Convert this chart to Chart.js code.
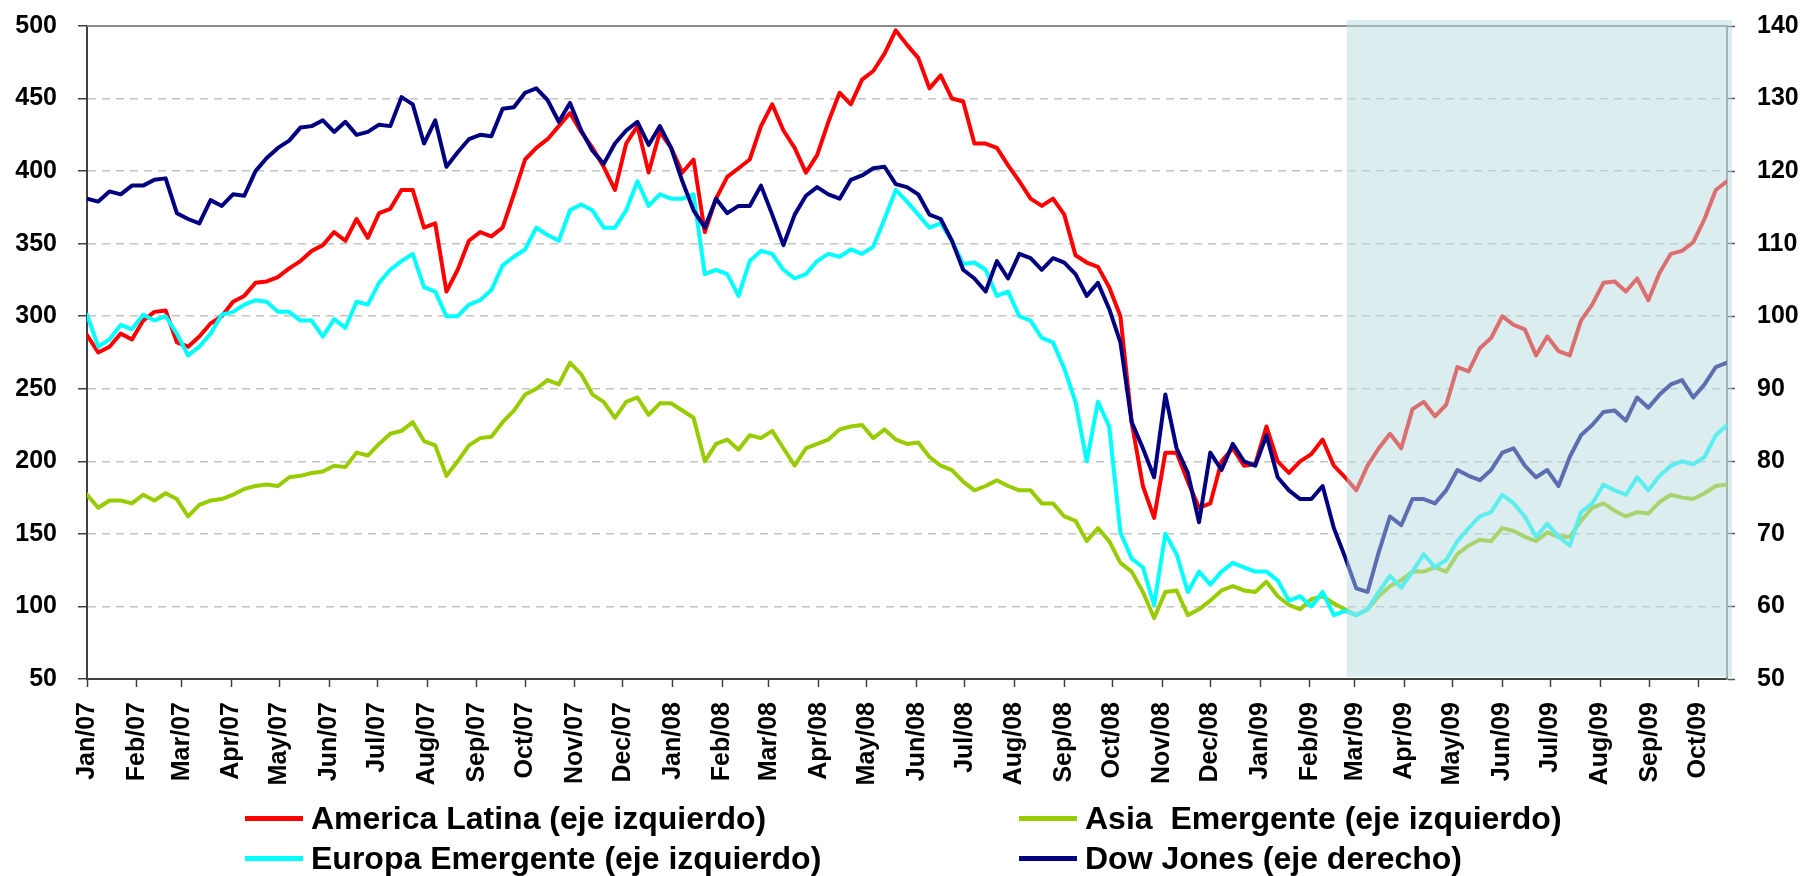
<!DOCTYPE html>
<html><head><meta charset="utf-8">
<script src="https://cdn.jsdelivr.net/npm/chart.js@4.4.0/dist/chart.umd.min.js"></script>
<style>
html,body{margin:0;padding:0;background:#fff;}
#wrap{position:relative;width:1805px;height:876px;overflow:hidden;}
canvas{position:absolute;left:0;top:0;}
#legend{position:absolute;left:0;top:0;width:1805px;height:876px;pointer-events:none;font-family:'Liberation Sans',Arial,sans-serif;font-weight:bold;font-size:32px;color:#000;}
.li{position:absolute;height:40px;line-height:40px;display:flex;align-items:center;white-space:pre;}
.sw{display:inline-block;width:58px;height:5px;margin-right:8px;}
</style></head><body>
<div id="wrap"><canvas id="c" width="1805" height="876"></canvas><div id="legend"></div></div>
<script>
// ---- data ----
const dates = [
'2007-01-01','2007-01-08','2007-01-15','2007-01-22','2007-01-29','2007-02-05','2007-02-12','2007-02-19','2007-02-26',
'2007-03-05','2007-03-12','2007-03-19','2007-03-26','2007-04-02','2007-04-09','2007-04-16','2007-04-23','2007-04-30',
'2007-05-07','2007-05-14','2007-05-21','2007-05-28','2007-06-04','2007-06-11','2007-06-18','2007-06-25',
'2007-07-02','2007-07-09','2007-07-16','2007-07-23','2007-07-30','2007-08-06','2007-08-13','2007-08-20','2007-08-27',
'2007-09-03','2007-09-10','2007-09-17','2007-09-24','2007-10-01','2007-10-08','2007-10-15','2007-10-22','2007-10-29',
'2007-11-05','2007-11-12','2007-11-19','2007-11-26','2007-12-03','2007-12-10','2007-12-17','2007-12-24','2007-12-31',
'2008-01-07','2008-01-14','2008-01-21','2008-01-28','2008-02-04','2008-02-11','2008-02-18','2008-02-25',
'2008-03-03','2008-03-10','2008-03-17','2008-03-24','2008-03-31','2008-04-07','2008-04-14','2008-04-21','2008-04-28',
'2008-05-05','2008-05-12','2008-05-19','2008-05-26','2008-06-02','2008-06-09','2008-06-16','2008-06-23','2008-06-30',
'2008-07-07','2008-07-14','2008-07-21','2008-07-28','2008-08-04','2008-08-11','2008-08-18','2008-08-25',
'2008-09-01','2008-09-08','2008-09-15','2008-09-22','2008-09-29','2008-10-06','2008-10-13','2008-10-20','2008-10-27',
'2008-11-03','2008-11-10','2008-11-17','2008-11-24','2008-12-01','2008-12-08','2008-12-15','2008-12-22','2008-12-29',
'2009-01-05','2009-01-12','2009-01-19','2009-01-26','2009-02-02','2009-02-09','2009-02-16','2009-02-23',
'2009-03-02','2009-03-09','2009-03-16','2009-03-23','2009-03-30','2009-04-06','2009-04-13','2009-04-20','2009-04-27',
'2009-05-04','2009-05-11','2009-05-18','2009-05-25','2009-06-01','2009-06-08','2009-06-15','2009-06-22','2009-06-29',
'2009-07-06','2009-07-13','2009-07-20','2009-07-27','2009-08-03','2009-08-10','2009-08-17','2009-08-24','2009-08-31',
'2009-09-07','2009-09-14','2009-09-21','2009-09-28','2009-10-05','2009-10-12','2009-10-19'];

const americaLatina = [287,275,279,288,284,297,303,304,282,279,286,295,300,310,314,323,324,327,333,338,345,349,358,352,367,354,371,374,387,387,361,364,317,332,352,358,355,
361,384,408,416,422,431,440,427,416,403,387,419,431,399,427,416,399,408,358,381,396,402,408,431,446,428,416,399,411,434,454,446,463,469,481,497,487,
478,457,466,450,448,419,419,416,404,393,381,376,381,370,342,337,334,320,300,227,183,161,206,206,186,168,171,200,209,197,198,224,200,192,200,205,
215,197,189,180,197,209,219,209,236,241,231,239,265,262,278,285,300,294,291,273,286,276,273,297,308,323,324,317,326,311,330,343,345,351,367,387,393];

const asiaEmergente = [177,168,173,173,171,177,173,178,174,162,170,173,174,177,181,183,184,183,189,190,192,193,197,196,206,204,212,219,221,227,214,211,190,200,211,216,217,
227,235,246,250,256,253,268,260,246,241,230,241,244,232,240,240,235,230,200,212,215,208,218,216,221,209,197,209,212,215,222,224,225,216,222,215,212,
213,203,197,194,186,180,183,187,183,180,180,171,171,162,159,145,154,145,130,124,110,92,110,111,94,98,104,111,114,111,110,117,107,101,98,105,
107,102,98,94,98,107,114,118,124,124,127,124,136,142,146,145,154,152,148,145,151,148,148,159,168,171,166,162,165,164,172,177,175,174,178,183,184];

const europaEmergente = [301,279,284,294,291,301,297,300,288,273,279,288,301,303,308,311,310,303,303,297,297,286,298,292,310,308,323,332,338,343,320,317,300,300,308,311,318,
335,341,346,361,356,352,373,377,373,361,361,373,393,376,384,381,381,384,329,332,329,314,338,345,343,332,326,329,338,343,341,346,343,348,367,387,379,
370,361,364,352,336,337,332,314,317,300,297,285,282,264,241,200,241,224,151,133,127,101,150,136,110,124,115,124,130,127,124,124,118,104,107,100,
110,94,97,94,98,110,121,113,124,136,127,132,145,154,162,165,177,171,162,148,157,148,142,165,171,184,180,177,189,180,190,197,200,198,203,218,225];

const dowJones = [116.2,115.8,117.2,116.8,118.0,118.0,118.8,119.0,114.2,113.4,112.8,116.0,115.2,116.8,116.6,120.0,121.8,123.2,124.2,126.0,126.2,127.0,125.4,126.8,125.0,125.4,126.4,126.2,130.2,129.2,123.8,127.0,120.6,122.6,124.4,125.0,124.8,
128.6,128.8,130.8,131.4,129.8,126.8,129.4,125.6,122.8,121.0,123.8,125.6,126.8,123.6,126.2,123.2,118.6,114.6,112.2,116.2,114.2,115.2,115.2,118.0,114.0,109.8,114.0,116.6,117.8,116.8,116.2,118.8,119.4,120.4,120.6,118.2,117.8,
116.8,114.0,113.4,110.4,106.4,105.2,103.4,107.6,105.2,108.6,108.0,106.4,108.0,107.4,105.8,102.8,104.6,101.0,96.4,85.4,81.8,77.8,89.2,81.8,78.4,71.6,81.2,78.8,82.4,80.0,79.4,83.6,77.8,76.0,74.8,74.8,
76.6,70.8,66.8,62.5,62.0,67.5,72.4,71.2,74.8,74.8,74.2,76.0,78.8,78.0,77.4,78.8,81.2,81.8,79.4,77.8,78.8,76.6,80.6,83.6,85.0,86.8,87.0,85.6,88.8,87.4,89.2,90.6,91.2,88.8,90.6,93.0,93.6];

const monthLabels = ['Jan/07','Feb/07','Mar/07','Apr/07','May/07','Jun/07','Jul/07','Aug/07','Sep/07','Oct/07','Nov/07','Dec/07',
'Jan/08','Feb/08','Mar/08','Apr/08','May/08','Jun/08','Jul/08','Aug/08','Sep/08','Oct/08','Nov/08','Dec/08',
'Jan/09','Feb/09','Mar/09','Apr/09','May/09','Jun/09','Jul/09','Aug/09','Sep/09','Oct/09'];
const leftTicks = [50,100,150,200,250,300,350,400,450,500];
const rightTicks = [50,60,70,80,90,100,110,120,130,140];
const shadeStart = '2009-02-24';
const seriesNames = ['America Latina (eje izquierdo)','Asia  Emergente (eje izquierdo)','Europa Emergente (eje izquierdo)','Dow Jones (eje derecho)'];

// ---- helpers ----
const T0 = Date.UTC(2007,0,1);
function dayOf(s){ return (Date.UTC(+s.slice(0,4), +s.slice(5,7)-1, +s.slice(8,10)) - T0)/864e5; }
const monthStarts = monthLabels.map((l,i)=> (Date.UTC(2007, i, 1) - T0)/864e5);
const xs = dates.map(dayOf);
const pts = arr => arr.map((v,i)=>({x: xs[i], y: v}));
const FONT = "'Liberation Sans', Arial, sans-serif";
const tickFont = {family: FONT, size: 25, weight: 'bold'};

const framePlugin = {
  id: 'frame',
  beforeDatasetsDraw(chart){
    const {ctx, chartArea: a} = chart;
    ctx.save(); ctx.strokeStyle = '#8c8c8c'; ctx.lineWidth = 2;
    ctx.beginPath(); ctx.moveTo(a.left, a.top); ctx.lineTo(a.right, a.top); ctx.stroke();
    ctx.restore();
  },
  afterDatasetsDraw(chart){
    const {ctx, chartArea: a, scales: {x}} = chart;
    const left = x.getPixelForValue(dayOf(shadeStart));
    ctx.save(); ctx.fillStyle = 'rgba(183,219,222,0.5)';
    ctx.fillRect(left, a.top - 6, a.right + 5 - left, (a.bottom - 2) - (a.top - 6));
    ctx.restore();
  }
};

function fixVPad(s, w){ s.width = w; s.paddingTop = 15; s.paddingBottom = 15; }

const colors = ['#ff0000', '#99cc00', '#00ffff', '#000080'];
const chart = new Chart(document.getElementById('c'), {
  type: 'line',
  data: {
    datasets: [
      {label: seriesNames[0], data: pts(americaLatina), borderColor: colors[0], yAxisID: 'y', order: 2},
      {label: seriesNames[1], data: pts(asiaEmergente), borderColor: colors[1], yAxisID: 'y', order: 3},
      {label: seriesNames[2], data: pts(europaEmergente), borderColor: colors[2], yAxisID: 'y', order: 1},
      {label: seriesNames[3], data: pts(dowJones), borderColor: colors[3], yAxisID: 'y2', order: 0}
    ].map(d => Object.assign(d, {borderWidth: 4, pointRadius: 0, tension: 0, borderJoinStyle: 'round', borderCapStyle: 'round', fill: false}))
  },
  options: {
    responsive: false, animation: false,
    layout: {padding: {top: 26, left: 0, right: 0, bottom: 0}},
    plugins: {legend: {display: false}, tooltip: {enabled: false}},
    scales: {
      x: {
        type: 'linear', min: 0, max: xs[xs.length - 1],
        afterBuildTicks(s){ s.ticks = monthStarts.map(v => ({value: v})); },
        afterFit(s){ s.height = 197; s.paddingLeft = 0; s.paddingRight = 0; },
        ticks: {autoSkip: false, minRotation: 90, maxRotation: 90, padding: 15, color: '#000', font: tickFont,
                callback: (v, i) => monthLabels[i]},
        grid: {drawOnChartArea: false, tickLength: 8, tickColor: '#404040', tickWidth: 1.5},
        border: {color: '#404040', width: 2}
      },
      y: {
        position: 'left', min: leftTicks[0], max: leftTicks[leftTicks.length - 1],
        afterBuildTicks(s){ s.ticks = leftTicks.map(v => ({value: v})); },
        afterFit(s){ fixVPad(s, 87); },
        ticks: {padding: 21, color: '#000', font: tickFont},
        grid: {color: '#c4c4c4', lineWidth: 1.5, tickColor: '#404040', tickLength: 9, tickWidth: 1.5},
        border: {color: '#404040', width: 2, dash: [8, 6]}
      },
      y2: {
        position: 'right', min: rightTicks[0], max: rightTicks[rightTicks.length - 1],
        afterBuildTicks(s){ s.ticks = rightTicks.map(v => ({value: v})); },
        afterFit(s){ fixVPad(s, 78); },
        ticks: {padding: 22, color: '#000', font: tickFont},
        grid: {drawOnChartArea: false, tickColor: '#555', tickLength: 8, tickWidth: 1.5},
        border: {color: '#8c8c8c', width: 2}
      }
    }
  },
  plugins: [framePlugin]
});

// ---- HTML legend (two columns) ----
const legendPos = [[245, 818], [1019, 818], [245, 858], [1019, 858]];
const lg = document.getElementById('legend');
chart.data.datasets.forEach((ds, i) => {
  const d = document.createElement('div');
  d.className = 'li';
  d.style.left = legendPos[i][0] + 'px';
  d.style.top = (legendPos[i][1] - 20) + 'px';
  const sw = document.createElement('span');
  sw.className = 'sw'; sw.style.background = ds.borderColor;
  const t = document.createElement('span');
  t.textContent = ds.label;
  d.appendChild(sw); d.appendChild(t);
  lg.appendChild(d);
});
</script>
</body></html>
